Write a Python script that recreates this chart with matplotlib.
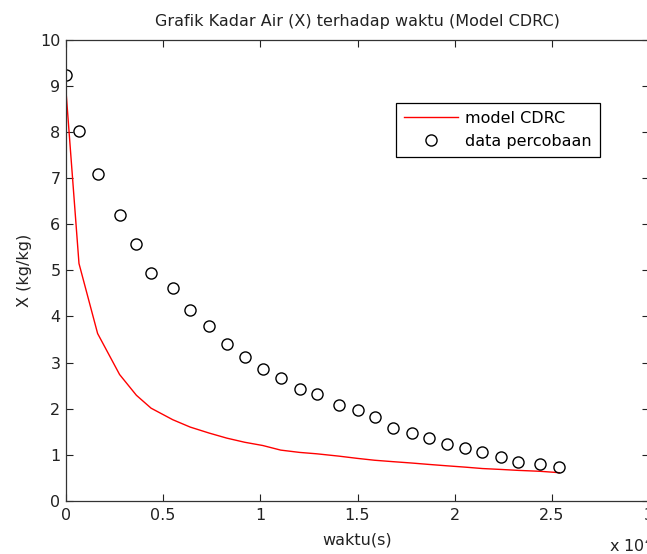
import matplotlib
matplotlib.use("Agg")
import matplotlib.pyplot as plt
import numpy as np

plt.rcParams['font.family'] = ['DejaVu Sans']

# time (s)
waktu = [0, 668, 1627, 2758, 3622, 4378, 5492, 6389, 7365, 8275, 9199, 10124,
         11049, 12025, 12899, 14029, 15006, 15880, 16805, 17781, 18655, 19580,
         20556, 21430, 22406, 23280, 24410, 25386]
# experimental data X (kg/kg)
data_percobaan = [9.25, 8.02, 7.09, 6.21, 5.57, 4.94, 4.61, 4.15, 3.80, 3.41,
                  3.12, 2.86, 2.66, 2.42, 2.32, 2.08, 1.97, 1.82, 1.58, 1.47,
                  1.36, 1.23, 1.14, 1.06, 0.95, 0.84, 0.80, 0.73]
# CDRC model X (kg/kg)
model_cdrc = [8.89, 5.15, 3.63, 2.74, 2.29, 2.01, 1.76, 1.60, 1.47, 1.36,
              1.27, 1.20, 1.10, 1.05, 1.02, 0.97, 0.92, 0.88, 0.85, 0.82,
              0.79, 0.76, 0.73, 0.70, 0.68, 0.66, 0.64, 0.61]

xticks = [0, 5000, 10000, 15000, 20000, 25000, 30000]
xtick_labels = ['0', '0.5', '1', '1.5', '2', '2.5', '3']
yticks = list(range(0, 11))

FS = 11.5
TXT = '#222222'

fig = plt.figure(figsize=(6.47, 5.54), dpi=100)
ax = fig.add_axes([66/647, (554-500.8)/554, (649-66)/647, (500.8-40)/554])

ax.plot(waktu, model_cdrc, color='#ff0000', lw=1.0, label='model CDRC')
ax.plot(waktu, data_percobaan, linestyle='none', marker='o', markersize=8,
        markerfacecolor='none', markeredgecolor='black', markeredgewidth=1.0,
        label='data percobaan')

ax.set_xlim(0, 30000)
ax.set_ylim(0, 10)
ax.set_xticks(xticks)
ax.set_xticklabels(xtick_labels)
ax.set_yticks(yticks)
ax.tick_params(direction='in', top=True, right=True, length=5, width=0.8,
               labelsize=FS, colors=TXT)
ax.tick_params(axis='x', pad=5)
ax.tick_params(axis='y', pad=4)
for s in ax.spines.values():
    s.set_linewidth(0.9)
    s.set_color('#333333')

ax.set_title('Grafik Kadar Air (X) terhadap waktu (Model CDRC)', fontsize=FS,
             color=TXT, pad=10)
ax.set_xlabel('waktu(s)', fontsize=FS, color=TXT, labelpad=7)
ax.set_ylabel('X (kg/kg)', fontsize=FS, color=TXT, labelpad=6)
fig.text(609/647, 1 - 546/554, r'x 10$^4$', fontsize=FS, color=TXT,
         ha='left', va='center')

leg = ax.legend(loc='upper right', bbox_to_anchor=((600-66)/583, (500.8-103)/460.8),
                fancybox=False, edgecolor='black', fontsize=FS,
                handlelength=3.4, borderpad=0.5, labelspacing=0.5, handletextpad=0.45,
                borderaxespad=0, framealpha=1, numpoints=1)
leg.get_frame().set_linewidth(0.9)

fig.savefig('out.png', dpi=100)
